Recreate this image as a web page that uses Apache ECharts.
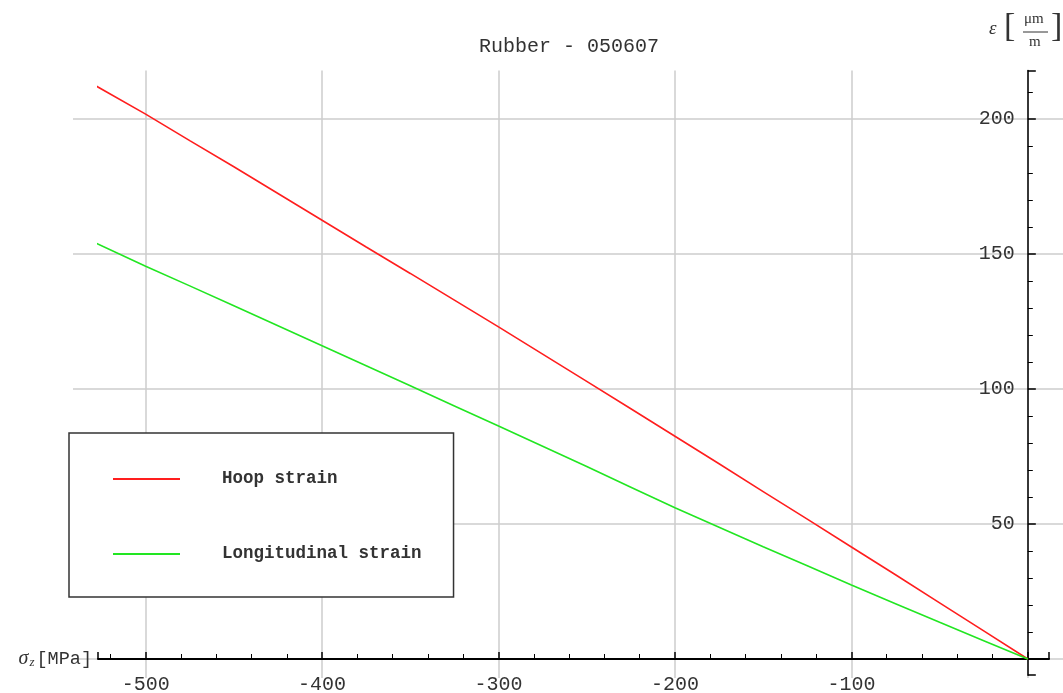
<!DOCTYPE html>
<html>
<head>
<meta charset="utf-8">
<script src="https://cdn.jsdelivr.net/npm/echarts@6/dist/echarts.min.js"></script>
<style>
html,body{margin:0;padding:0;background:#fff;}
#chart{width:1063px;height:693px;}
</style>
</head>
<body>
<div id="chart"></div>
<script>
// ---- data ----
const titleText = 'Rubber - 050607';
const seriesNames = ['Hoop strain', 'Longitudinal strain'];
const stress = [-528, -500, -475, -450, -425, -400, -375, -350, -325, -300, -275, -250, -225, -200, -175, -150, -125, -100, -75, -50, -25, 0];
const hoopStrain = [212.2, 201.8, 192.0, 182.3, 172.4, 162.5, 152.6, 142.8, 132.9, 123.0, 112.9, 102.8, 92.7, 82.5, 72.3, 62.0, 51.8, 41.5, 31.2, 20.8, 10.4, 0];
const longStrain = [154.0, 145.5, 138.2, 130.8, 123.4, 116.0, 108.6, 101.2, 93.7, 86.3, 78.8, 71.3, 63.6, 56.0, 48.8, 41.6, 34.5, 27.4, 20.5, 13.6, 6.8, 0];
const xRange = [-527, 12];
const yRange = [-6, 218];

// ---- layout ----
const W = 1063, H = 693;
const plotLeft = 98, plotRight = 1049;   // px of xRange ends
const yZeroPx = 659, yTopPx = 70.4;
const kx = (plotRight - plotLeft) / (xRange[1] - xRange[0]);
const ky = (yZeroPx - yTopPx) / yRange[1];
const plotBottom = yZeroPx - yRange[0] * ky;
const xZeroPx = plotLeft - xRange[0] * kx;
// background grid (grid lines extend beyond axes)
const bgLeft = 73, bgRight = W, bgBottom = 678;
const bgX = [xRange[0] - (plotLeft - bgLeft) / kx, xRange[1] + (bgRight - plotRight) / kx];
const bgY = [-(bgBottom - yZeroPx) / ky, yRange[1]];

const mono = '"Liberation Mono", "DejaVu Sans Mono", monospace';
const serif = '"Liberation Serif", "DejaVu Serif", serif';
const red = '#ff1e1e', green = '#22e622';

const chart = echarts.init(document.getElementById('chart'), null, {renderer: 'canvas'});
chart.setOption({
  backgroundColor: '#fff',
  animation: false,
  title: {
    text: titleText, left: 474, top: 32,
    textStyle: {fontFamily: mono, fontSize: 20, fontWeight: 'normal', color: '#333'}
  },
  legend: {
    orient: 'vertical', left: 69, top: 433,
    padding: [37, 32, 34, 44],
    itemGap: 57, itemWidth: 67, itemHeight: 2,
    icon: 'rect',
    backgroundColor: '#fff', borderColor: '#333', borderWidth: 1.5,
    textStyle: {fontFamily: mono, fontSize: 17.5, fontWeight: 'bold', color: '#333', padding: [0, 0, 0, 37]},
    data: seriesNames
  },
  grid: [
    {left: plotLeft, right: W - plotRight, top: yTopPx, bottom: H - plotBottom, outerBoundsMode: 'none', containLabel: false},
    {left: bgLeft, right: W - bgRight, top: yTopPx, bottom: H - bgBottom, outerBoundsMode: 'none', containLabel: false}
  ],
  xAxis: [
    {
      type: 'value', gridIndex: 0, min: xRange[0], max: xRange[1], position: 'bottom',
      offset: -(plotBottom - yZeroPx),
      axisLine: {onZero: false, lineStyle: {color: '#000', width: 2}},
      axisTick: {inside: true, length: 7, lineStyle: {color: '#000', width: 1.5}},
      minorTick: {show: true, splitNumber: 5, length: 5, lineStyle: {color: '#000', width: 1}},
      axisLabel: {showMinLabel: false, showMaxLabel: false, margin: 16, fontFamily: mono, fontSize: 20, color: '#333',
        formatter: v => v === 0 ? '' : String(v)},
      splitLine: {show: false},
      name: '{s|σ}{z|z}{b|[MPa]}', nameLocation: 'start', nameGap: 6,
      nameTextStyle: {
        rich: {
          s: {fontFamily: serif, fontStyle: 'italic', fontSize: 20, color: '#333', padding: [0, 1, 0, 0]},
          z: {fontFamily: serif, fontStyle: 'italic', fontSize: 13, color: '#333', verticalAlign: 'bottom', padding: [8, 2, 0, 0]},
          b: {fontFamily: mono, fontSize: 18.5, color: '#333'}
        }
      }
    },
    {
      type: 'value', gridIndex: 1, min: bgX[0], max: bgX[1],
      axisLine: {show: false}, axisTick: {show: false}, axisLabel: {show: false},
      splitLine: {show: true, showMinLine: false, showMaxLine: false, lineStyle: {color: '#cccccc', width: 1.5}}
    }
  ],
  yAxis: [
    {
      type: 'value', gridIndex: 0, min: yRange[0], max: yRange[1], position: 'right',
      offset: -(plotRight - xZeroPx),
      axisLine: {onZero: false, lineStyle: {color: '#000', width: 1.5}},
      axisTick: {inside: false, length: 8, lineStyle: {color: '#000', width: 1.5}},
      minorTick: {show: true, splitNumber: 5, length: 5, lineStyle: {color: '#000', width: 1}},
      axisLabel: {inside: true, showMinLabel: false, showMaxLabel: false, margin: 13, fontFamily: mono, fontSize: 20, color: '#333',
        formatter: v => v <= 0 ? '' : String(v)},
      splitLine: {show: false}
    },
    {
      type: 'value', gridIndex: 1, min: bgY[0], max: bgY[1],
      axisLine: {show: false}, axisTick: {show: false}, axisLabel: {show: false},
      splitLine: {show: true, showMinLine: false, showMaxLine: false, lineStyle: {color: '#cccccc', width: 1.5}}
    }
  ],
  graphic: [
    {type: 'text', left: 989, top: 19, style: {text: 'ε', font: 'italic 19px ' + serif, fill: '#333'}},
    {type: 'text', left: 1004, top: 10, style: {text: '[', font: '34px ' + serif, fill: '#333'}},
    {type: 'text', left: 1024, top: 12, style: {text: 'μm', font: '15px ' + serif, fill: '#333'}},
    {type: 'line', shape: {x1: 1023, y1: 32, x2: 1048, y2: 32}, style: {stroke: '#333', lineWidth: 1}},
    {type: 'text', left: 1029, top: 35, style: {text: 'm', font: '15px ' + serif, fill: '#333'}},
    {type: 'text', left: 1051, top: 10, style: {text: ']', font: '34px ' + serif, fill: '#333'}}
  ],
  series: [
    {
      name: seriesNames[0], type: 'line', xAxisIndex: 0, yAxisIndex: 0,
      data: stress.map((x, i) => [x, hoopStrain[i]]),
      showSymbol: false, lineStyle: {color: red, width: 1.6}, itemStyle: {color: red}, z: 3
    },
    {
      name: seriesNames[1], type: 'line', xAxisIndex: 0, yAxisIndex: 0,
      data: stress.map((x, i) => [x, longStrain[i]]),
      showSymbol: false, lineStyle: {color: green, width: 1.6}, itemStyle: {color: green}, z: 3
    }
  ]
});
</script>
</body>
</html>
